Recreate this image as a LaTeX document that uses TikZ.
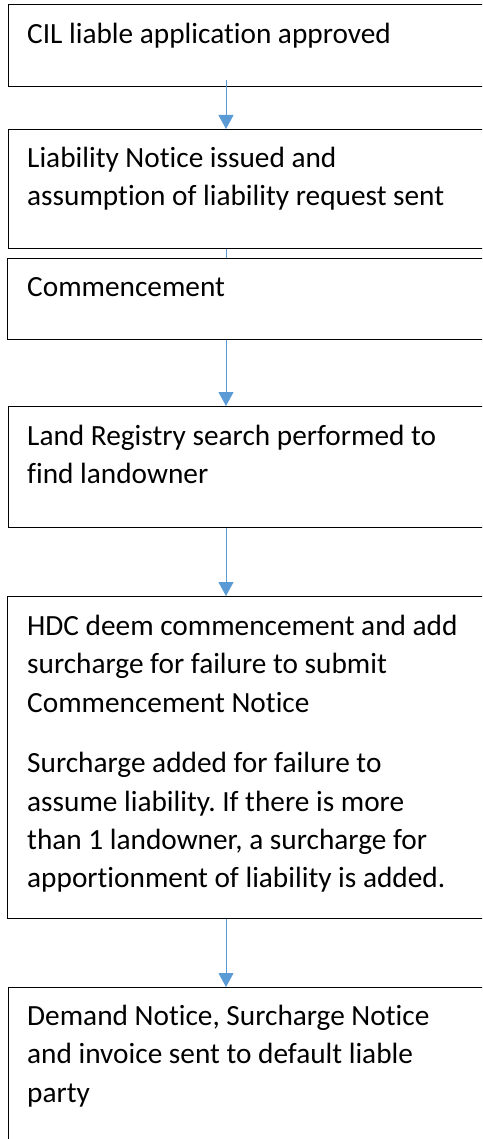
\documentclass[tikz,border=0pt]{standalone}
\usepackage{fontspec}
\setmainfont[Ligatures={NoCommon}]{Carlito}
\usetikzlibrary{arrows.meta,calc}
\definecolor{arrblue}{HTML}{5B9BD5}
\tikzset{
  box/.style={draw=black, line width=1.3pt, fill=none, anchor=north west, inner sep=0pt, minimum width=500pt},
  txt/.style={anchor=base west, inner sep=0pt, font=\fontsize{29.3}{35}\selectfont},
  arr/.style={draw=arrblue, line width=1pt, -{Triangle[width=15pt,length=14pt]}},
  seg/.style={draw=arrblue, line width=1pt}
}
\frenchspacing
\begin{document}
\begin{tikzpicture}[x=1pt,y=-1pt]
\useasboundingbox (0,0) rectangle (482,1139);
\clip (0,0) rectangle (482,1139);
\coordinate (ax) at (226,0);
% boxes
\node[box, minimum height=82pt]  (b1) at (8,4) {};
\node[box, minimum height=119pt] (b2) at (8,129) {};
\node[box, minimum height=81pt]  (b3) at (7,258) {};
\node[box, minimum height=121pt] (b4) at (8,406) {};
\node[box, minimum height=322pt] (b5) at (7,596) {};
\node[box, minimum height=180pt] (b6) at (8,987) {};
% texts
\node[txt] (t1) at (27,44) {CIL liable application approved};
\node[txt] (t2a) at (27,168) {Liability Notice issued and};
\node[txt] (t2b) at (27,206) {assumption of liability request sent};
\node[txt] (t3) at (27,296) {Commencement};
\node[txt] (t4a) at (27,445) {Land Registry search performed to};
\node[txt] (t4b) at (27,483) {find landowner};
\node[txt] (t5a) at (27,635) {HDC deem commencement and add};
\node[txt] (t5b) at (27,673) {surcharge for failure to submit};
\node[txt] (t5c) at (27,712) {Commencement Notice};
\node[txt] (t5d) at (27,772) {Surcharge added for failure to};
\node[txt] (t5e) at (27,811) {assume liability. If there is more};
\node[txt] (t5f) at (27,849) {than 1 landowner, a surcharge for};
\node[txt] (t5g) at (27,887) {apportionment of liability is added.};
\node[txt] (t6a) at (27,1025) {Demand Notice, Surcharge Notice};
\node[txt] (t6b) at (27,1063) {and invoice sent to default liable};
\node[txt] (t6c) at (27,1102) {party};
% connectors
\draw[arr] ([yshift=7pt]b1.south -| ax) -- (b2.north -| ax);
\draw[seg] (b2.south -| ax) -- (b3.north -| ax);
\draw[arr] (b3.south -| ax) -- (b4.north -| ax);
\draw[arr] (b4.south -| ax) -- (b5.north -| ax);
\draw[arr] (b5.south -| ax) -- (b6.north -| ax);
\end{tikzpicture}
\end{document}
